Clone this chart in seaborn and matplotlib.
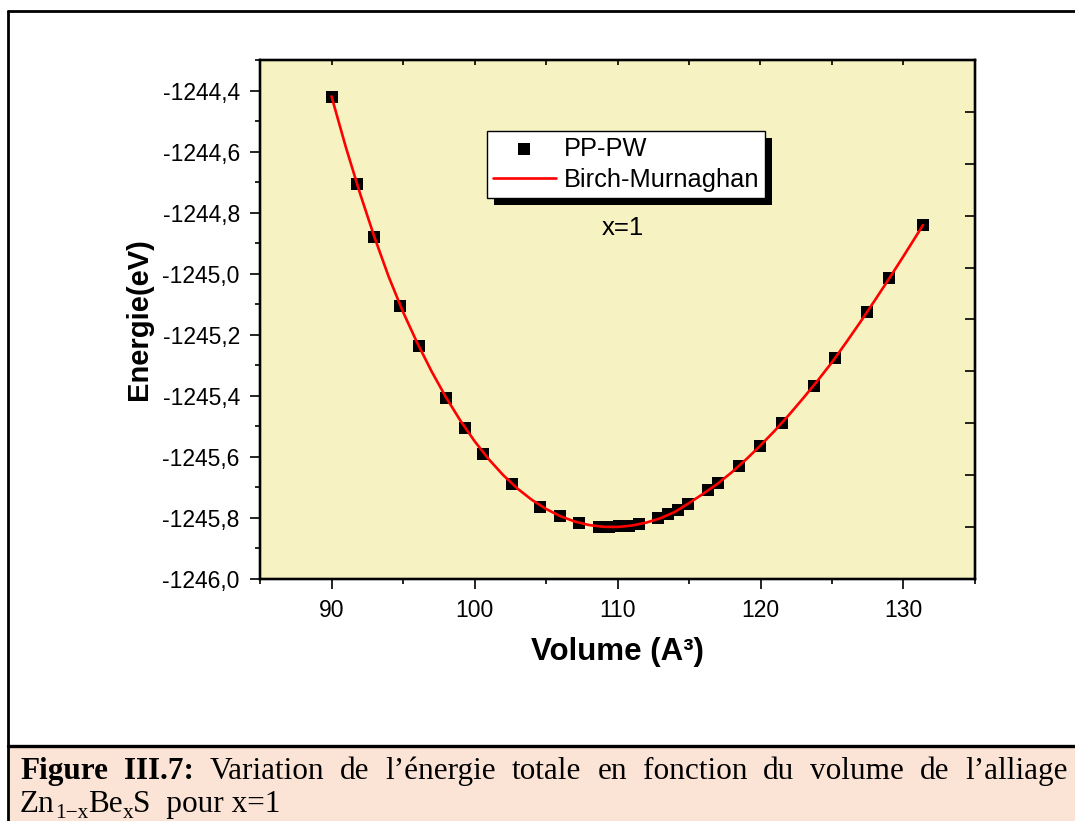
import numpy as np
import pandas as pd
import matplotlib
matplotlib.use("Agg")
import matplotlib.pyplot as plt
import seaborn as sns
from matplotlib.ticker import MultipleLocator, FuncFormatter
from matplotlib.patches import Rectangle
from matplotlib.lines import Line2D

# ---------------- data ----------------
volume_pts = [90.0, 91.76, 92.95, 94.78, 96.11, 98.03, 99.37, 100.56, 102.6, 104.6,
              105.97, 107.3, 108.7, 109.4, 110.1, 110.8, 111.5, 112.82, 113.52, 114.22,
              114.93, 116.33, 117.03, 118.51, 119.99, 121.48, 123.73, 125.23, 127.46,
              129.02, 131.37]
energy_pts = [-1244.42, -1244.707, -1244.88, -1245.106, -1245.237, -1245.407, -1245.505,
              -1245.59, -1245.69, -1245.763, -1245.795, -1245.818, -1245.831, -1245.83,
              -1245.828, -1245.825, -1245.82, -1245.80, -1245.787, -1245.774, -1245.754,
              -1245.71, -1245.687, -1245.629, -1245.563, -1245.49, -1245.367, -1245.277,
              -1245.124, -1245.015, -1244.841]

# Birch-Murnaghan fit curve
volume_fit = [90, 91, 92, 93, 94, 95, 96, 97, 98, 99, 100, 101, 102, 103, 104, 105, 106,
              107, 108, 109, 110, 111, 112, 113, 114, 115, 116, 117, 118, 119, 120, 121,
              122, 123, 124, 125, 126, 127, 128, 129, 130, 131, 131.37]
energy_fit = [-1244.419, -1244.585, -1244.738, -1244.880, -1245.010, -1245.125, -1245.227,
              -1245.320, -1245.4045, -1245.4803, -1245.5482, -1245.6078, -1245.6594,
              -1245.7036, -1245.7404, -1245.7705, -1245.7942, -1245.8116, -1245.8231,
              -1245.8291, -1245.8296, -1245.825, -1245.8154, -1245.8011, -1245.7806,
              -1245.7515, -1245.7205, -1245.688, -1245.650, -1245.608, -1245.5625,
              -1245.514, -1245.462, -1245.407, -1245.350, -1245.290, -1245.2245,
              -1245.157, -1245.087, -1245.0155, -1244.9425, -1244.868, -1244.8405]

x_ticks = [90, 100, 110, 120, 130]
y_ticks = [-1246.0, -1245.8, -1245.6, -1245.4, -1245.2, -1245.0, -1244.8, -1244.6, -1244.4]
series_labels = ["PP-PW", "Birch-Murnaghan"]
annotation = "x=1"
x_label = "Volume (A\u00b3)"
y_label = "Energie(eV)"
caption_words = [("Figure", "bold"), ("III.7:", "bold"), ("Variation", "normal"),
                 ("de", "normal"), ("l\u2019\u00e9nergie", "normal"), ("totale", "normal"),
                 ("en", "normal"), ("fonction", "normal"), ("du", "normal"),
                 ("volume", "normal"), ("de", "normal"), ("l\u2019alliage", "normal")]
# (text, is_subscript)
caption_line2 = [("Zn", False), ("1\u2212x", True), ("Be", False), ("x", True),
                 ("S  pour x=1", False)]

# ---------------- style ----------------
sns.set_style("ticks")
plt.rcParams['font.family'] = ['Liberation Sans', 'DejaVu Sans']
for key in ('text.color', 'axes.labelcolor', 'xtick.color', 'ytick.color',
            'axes.edgecolor'):
    plt.rcParams[key] = 'black'

W, H = 1075, 821
fig = plt.figure(figsize=(W / 100, H / 100), dpi=100)
fig.patch.set_facecolor('white')


def fx(px):
    return px / W


def fy(py):
    return 1 - py / H


# caption background + frame lines
fig.patches.append(Rectangle((fx(8), 0), 1, fy(746), transform=fig.transFigure,
                             facecolor='#FBE4D5', edgecolor='none', zorder=0))
fig.add_artist(Line2D([fx(8), fx(8)], [0, fy(11)], color='black', lw=2.0))
fig.add_artist(Line2D([fx(8), 1], [fy(11), fy(11)], color='black', lw=2.0))
fig.add_artist(Line2D([fx(8), 1], [fy(746), fy(746)], color='black', lw=2.4))

# ---------------- axes ----------------
ax = fig.add_axes([fx(260), fy(579), fx(975) - fx(260), fy(60) - fy(579)])
ax.set_facecolor('#F6F2C2')

sns.scatterplot(x=volume_pts, y=energy_pts, ax=ax, marker='s', s=80, color='black',
                linewidth=0, label=series_labels[0], zorder=3)
sns.lineplot(x=volume_fit, y=energy_fit, ax=ax, color='#FF0000', linewidth=1.9,
             label=series_labels[1], zorder=4, estimator=None)

ax.set_xlim(85, 135)
ax.set_ylim(-1246.0, -1244.3)
ax.set_xticks(x_ticks)
ax.set_yticks(y_ticks)
ax.xaxis.set_minor_locator(MultipleLocator(5))
ax.yaxis.set_minor_locator(MultipleLocator(0.1))
ax.yaxis.set_major_formatter(FuncFormatter(lambda v, p: f"{v:.1f}".replace('.', ',')))

for sp in ax.spines.values():
    sp.set_linewidth(1.6)
    sp.set_color('black')
    sp.set_visible(True)

ax.tick_params(axis='both', which='major', direction='out', length=7.5, width=1.2,
               labelsize=16.5, colors='black', top=False, right=False)
ax.tick_params(axis='both', which='minor', direction='out', length=3.6, width=1.2,
               colors='black', top=False, right=False)
ax.tick_params(axis='y', which='major', pad=7)
ax.tick_params(axis='x', which='major', pad=7)

ax.set_xlabel(x_label, fontsize=22.5, fontweight='bold', color='black')
ax.set_ylabel(y_label, fontsize=21, fontweight='bold', color='black')
ax.xaxis.set_label_coords(0.5, -0.112)
ax.yaxis.set_label_coords(-0.15, 0.5)

ax.text(0.5077, 0.676, annotation, transform=ax.transAxes, ha='center', va='center',
        fontsize=18.5, color='black')

leg = ax.legend(loc='upper left', bbox_to_anchor=(0.3175, 0.863), borderaxespad=0,
                frameon=True, fancybox=False, edgecolor='black', facecolor='white',
                framealpha=1, fontsize=18.3, handlelength=2.5, handletextpad=0.3,
                borderpad=0.22, labelspacing=0.3, scatterpoints=1)
leg.get_frame().set_linewidth(1.0)
for t in leg.get_texts():
    t.set_color('black')
leg.set_zorder(6)

# top and right axes with ticks at tenths of the frame
ax_top = ax.twiny()
ax_top.set_xlim(0, 1)
ax_top.xaxis.set_major_locator(MultipleLocator(0.1))
ax_top.tick_params(axis='x', which='major', direction='in', length=3.8, width=1.2,
                   colors='black', top=True, bottom=False, labeltop=False,
                   labelbottom=False)
ax_right = ax.twinx()
ax_right.set_ylim(0, 1)
ax_right.yaxis.set_major_locator(MultipleLocator(0.1))
ax_right.tick_params(axis='y', which='major', direction='in', length=7.5, width=1.2,
                     colors='black', right=True, left=False, labelright=False,
                     labelleft=False)
for a in (ax_top, ax_right):
    for sp in a.spines.values():
        sp.set_linewidth(1.6)
        sp.set_color('black')

# ---------------- caption ----------------
fig.canvas.draw()
renderer = fig.canvas.get_renderer()
cap_size = 22.5
serif = ['Liberation Serif', 'DejaVu Serif']
texts = []
widths = []
for word, weight in caption_words:
    t = fig.text(0, fy(779), word, fontsize=cap_size, fontweight=weight, family=serif,
                 va='baseline', ha='left', color='black')
    texts.append(t)
    widths.append(t.get_window_extent(renderer).width)
left_px, right_px = 20, 1068
gap = (right_px - left_px - sum(widths)) / (len(widths) - 1)
xpos = left_px
for t, w in zip(texts, widths):
    t.set_x(fx(xpos))
    xpos += w + gap

xpos = 20
for piece, is_sub in caption_line2:
    size = cap_size * 0.68 if is_sub else cap_size
    base = 812 + (6 if is_sub else 0)
    t = fig.text(fx(xpos), fy(base), piece, fontsize=size, family=serif,
                 va='baseline', ha='left', color='black')
    xpos += t.get_window_extent(renderer).width

# legend shadow
fig.canvas.draw()
bb = leg.get_window_extent(renderer)
inv = ax.transAxes.inverted()
(x0, y0) = inv.transform((bb.x0 + 7, bb.y0 - 7))
(x1, y1) = inv.transform((bb.x1 + 7, bb.y1 - 7))
ax.add_artist(Rectangle((x0, y0), x1 - x0, y1 - y0, transform=ax.transAxes,
                        facecolor='black', edgecolor='none', zorder=5.5, clip_on=False))

fig.savefig("out.png", dpi=100)
